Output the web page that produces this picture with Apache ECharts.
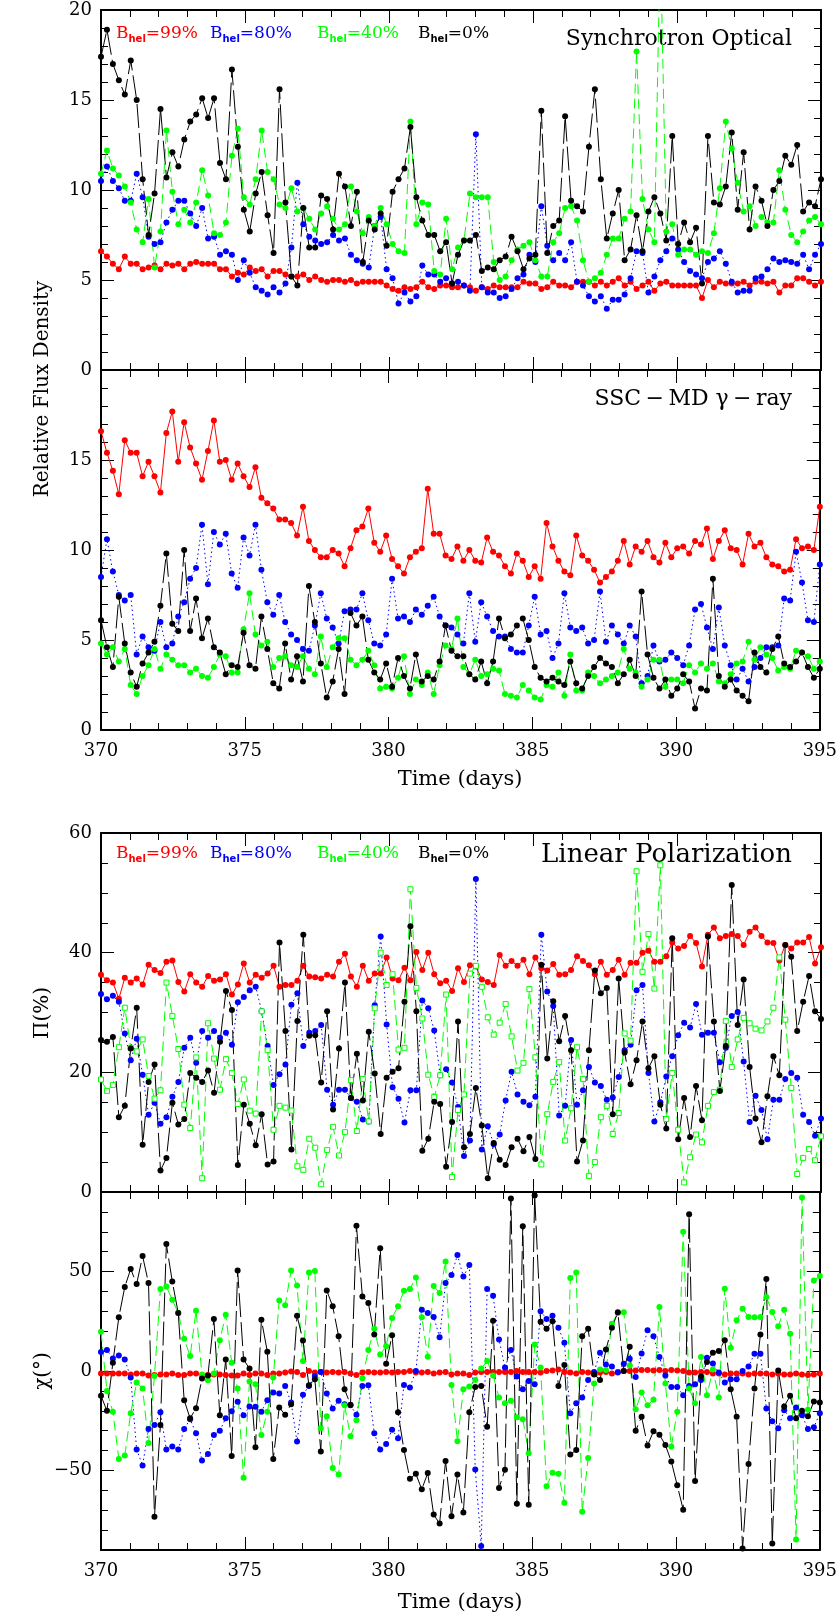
<!DOCTYPE html>
<html>
<head>
<meta charset="utf-8">
<script src="https://cdn.jsdelivr.net/npm/echarts@6/dist/echarts.min.js"></script>
<style>
  html, body { margin: 0; padding: 0; background: #fff; }
  #chart { width: 840px; height: 1616px; }
</style>
</head>
<body>
<div id="chart"></div>
<script>
// time range of every panel (days); samples are evenly spaced over it
const T_START = 370, T_END = 395;

// Synchrotron optical flux (relative)
const optRed = [6.6,6.3,5.9,5.6,6.3,5.9,5.9,5.6,5.7,5.8,5.6,5.9,5.8,5.9,5.6,5.9,6.0,5.9,5.9,5.9,5.6,5.6,5.2,5.4,5.3,5.7,5.5,5.6,5.2,5.5,5.5,5.3,5.2,5.2,5.3,5.0,5.2,5.0,4.9,5.0,5.0,4.9,
  5.0,4.8,4.9,4.9,4.9,4.9,4.7,4.5,4.4,4.6,4.5,4.6,4.9,4.6,4.5,4.7,4.7,4.6,4.6,4.7,4.6,4.4,4.6,4.5,4.7,4.6,4.6,4.6,4.6,4.9,4.8,4.8,4.5,4.6,4.9,4.7,4.7,4.6,4.9,4.9,
  4.9,4.7,4.9,4.7,4.9,5.1,4.7,4.9,4.5,4.7,4.9,4.4,4.8,4.9,4.7,4.7,4.7,4.7,4.7,4.0,5.0,4.6,4.9,4.8,4.8,4.8,4.9,4.7,4.9,4.9,4.8,4.9,4.3,4.7,4.7,5.1,5.1,4.9,4.7,4.9];
const optBlue = [10.5,11.3,10.5,10.1,9.4,9.4,10.9,9.6,7.4,7.0,7.1,8.2,8.9,9.4,9.4,8.7,8.0,9.0,7.3,7.4,6.4,6.6,6.4,5.0,6.1,5.4,4.6,4.4,4.2,4.6,4.3,4.8,6.8,10.4,8.1,7.4,7.2,7.0,7.1,7.5,7.2,7.3,
  6.4,6.1,5.9,5.7,8.0,8.5,5.6,5.1,3.7,4.3,3.8,4.1,5.8,5.3,5.3,4.9,5.1,4.8,4.9,4.7,4.4,13.1,4.6,4.3,4.3,4.0,4.1,4.5,5.1,5.3,6.4,6.0,9.1,6.9,6.1,6.5,6.1,7.1,4.9,4.7,
  4.1,3.8,4.1,3.4,3.9,3.9,4.2,5.1,6.6,6.5,4.3,5.2,6.1,6.6,7.3,6.7,6.0,5.5,5.3,5.1,6.0,6.2,6.6,5.9,4.9,4.3,4.4,4.4,5.1,5.2,5.6,6.2,6.0,6.1,6.0,5.9,6.4,5.6,6.4,7.0];
const optGreen = [10.9,12.2,11.2,10.8,10.2,9.3,7.8,7.1,9.5,5.7,7.7,13.3,9.9,8.1,8.9,8.2,9.3,11.1,9.7,7.6,7.5,8.2,11.9,13.4,9.6,9.2,10.6,13.3,11.0,10.6,9.2,9.0,10.1,8.8,9.0,8.4,7.8,8.7,9.1,8.4,7.8,8.1,
  10.2,8.8,7.6,8.5,8.0,9.0,8.1,7.0,6.6,6.5,13.8,8.1,9.3,9.2,5.5,5.3,8.4,5.6,6.8,7.2,9.8,9.6,9.6,9.6,6.0,5.0,5.2,6.1,6.7,6.9,7.1,6.1,5.2,5.2,7.1,7.6,9.0,9.1,8.3,6.1,
  4.9,5.1,5.4,6.4,7.3,7.3,8.4,8.8,17.7,9.5,7.8,7.1,24,7.7,8.1,6.4,6.7,6.7,6.4,6.6,6.5,7.6,10.1,13.8,12.3,10.4,8.8,9.1,8.0,8.5,8.2,8.2,11.1,8.9,7.5,7.1,7.7,8.3,8.5,8.1];
const optBlack = [17.4,18.9,17.0,16.1,15.3,17.2,15.0,10.6,7.5,9.8,14.5,10.7,12.1,11.3,12.8,13.8,14.2,15.1,14.0,15.1,11.5,10.6,16.7,12.4,8.9,7.7,9.8,11.0,8.6,6.5,15.6,9.3,5.2,4.7,9.0,6.8,6.8,9.7,9.5,7.8,10.9,10.2,
  8.0,9.9,6.0,8.3,7.8,8.7,6.9,9.9,10.6,11.2,13.5,9.6,8.3,7.5,7.5,6.6,7.1,4.8,6.4,7.2,7.2,7.5,5.5,5.7,5.6,6.1,6.3,7.4,6.6,5.6,6.2,6.4,14.4,6.5,8.0,8.3,14.1,9.4,9.1,8.8,
  12.4,15.6,10.6,7.3,8.7,10.0,6.1,6.7,8.6,6.6,8.8,9.6,8.7,7.2,13.0,7.0,8.2,7.1,7.9,4.8,13.0,9.3,9.2,10.2,13.2,8.9,12.1,7.8,10.2,9.4,8.0,10.0,10.5,11.9,11.4,12.5,8.8,9.3,9.1,10.6];

// SSC-MD gamma-ray flux (relative)
const gamRed = [16.6,15.4,14.4,13.1,16.1,15.4,15.4,14.1,14.9,14.1,13.2,16.5,17.7,14.9,17.1,15.7,14.8,13.9,15.5,17.2,14.9,15.0,13.9,14.8,14.1,13.5,14.6,12.9,12.6,12.3,11.7,11.7,11.5,10.8,12.4,10.5,10.0,9.6,9.6,10.0,9.8,9.1,
  10.1,11.1,11.3,12.3,10.4,9.9,10.8,9.5,9.1,8.7,9.6,9.9,10.1,13.4,10.9,10.9,9.7,9.5,10.2,9.4,10.0,9.4,9.3,10.7,9.9,9.7,9.1,8.7,9.8,9.4,8.5,9.1,8.4,11.5,10.2,9.4,8.8,8.6,10.8,9.7,
  9.4,8.9,8.2,8.5,8.8,9.4,10.5,9.2,10.2,9.9,10.5,9.6,9.3,10.4,9.6,10.1,10.2,9.8,10.5,10.3,11.2,9.5,10.5,11.1,10.1,10.0,9.2,10.9,10.2,10.4,9.6,9.2,9.1,8.8,8.9,10.6,10.1,10.2,10.0,12.4];
const gamBlue = [8.5,10.6,8.8,7.5,7.2,7.5,4.2,5.2,4.6,4.4,6.0,4.6,4.8,6.3,7.1,8.4,9.0,11.4,8.1,11.0,10.3,10.9,8.7,7.9,10.7,9.7,11.4,8.9,7.1,6.4,7.5,6.0,5.3,5.0,4.5,4.4,5.8,7.6,6.2,5.7,4.8,6.6,
  6.7,6.7,7.6,6.1,4.8,4.7,5.3,8.4,6.2,6.3,6.0,6.7,6.4,6.9,7.4,6.3,5.8,5.7,5.3,4.8,7.6,4.9,7.1,6.3,5.5,5.2,5.2,4.5,4.3,4.3,5.8,7.4,5.3,5.5,4.0,4.8,7.6,5.7,5.5,5.7,
  4.8,5.0,7.7,4.9,5.8,5.3,4.8,5.8,5.2,2.6,3.0,4.7,3.8,3.9,4.3,4.0,3.6,4.7,6.7,7.0,5.7,4.5,6.8,4.7,3.6,2.8,3.4,2.7,3.5,4.0,4.6,4.6,4.7,7.3,7.2,9.9,8.2,6.1,6.0,9.2];
const gamGreen = [4.8,4.2,4.6,3.8,4.5,2.5,2.0,3.0,3.6,4.5,3.4,4.2,3.9,3.6,3.6,3.2,3.4,3.0,2.9,3.5,4.2,4.1,3.2,3.2,5.6,7.6,5.3,4.7,4.9,3.5,4.0,4.1,3.6,3.5,4.1,3.4,3.1,5.2,3.5,4.6,5.1,5.1,
  3.9,3.6,3.9,4.4,3.6,2.3,2.4,2.3,2.9,4.1,2.0,2.8,2.5,3.2,2.0,3.6,4.7,4.5,6.2,3.5,3.1,3.9,3.0,3.1,3.4,3.3,2.0,1.9,1.8,2.5,2.2,1.8,1.7,2.5,2.4,3.2,1.9,4.2,2.2,2.2,
  3.2,3.0,2.6,2.8,3.0,3.2,4.5,3.4,3.2,2.4,2.8,3.9,3.9,2.4,2.8,2.8,2.6,3.6,3.2,3.7,3.4,3.7,2.7,2.6,3.1,3.7,3.8,4.9,3.9,4.6,4.2,4.0,3.3,3.5,3.4,4.4,4.3,4.1,3.4,3.8];
const gamBlack = [6.1,4.6,3.5,7.4,4.8,3.2,2.4,3.7,4.3,4.9,6.9,9.8,5.9,5.5,10.0,5.5,7.3,5.1,6.2,4.6,4.3,3.1,3.6,3.5,5.4,3.6,3.4,6.3,4.5,2.6,2.3,4.8,2.8,4.1,2.7,8.0,6.0,3.7,1.8,2.7,4.5,2.0,
  6.5,5.8,6.3,3.9,3.2,2.8,3.7,2.4,4.0,3.0,2.3,4.2,2.7,3.0,2.8,3.8,5.8,4.4,4.1,4.1,3.1,2.8,3.8,2.6,3.8,6.2,5.1,5.3,5.8,6.2,5.0,3.5,2.9,2.7,2.9,2.7,2.5,3.8,2.6,2.3,
  3.0,3.5,4.0,3.7,3.5,2.6,3.1,3.9,3.0,7.7,4.2,2.9,2.3,2.8,1.9,2.3,3.1,2.7,1.2,2.3,2.2,8.4,3.0,2.4,2.8,2.2,1.9,1.6,4.3,3.5,3.2,4.5,5.2,3.7,3.5,3.8,4.3,3.5,2.9,3.4];

// linear polarization degree (%)
const polRed = [36.3,35.4,35.0,32.3,35.8,35.0,35.7,34.7,38.0,37.1,36.6,38.5,38.7,35.1,33.5,36.4,35.0,34.3,36.1,35.3,35.5,36.4,33.0,34.7,38.2,35.0,36.3,35.8,36.5,37.8,34.3,34.6,34.6,35.3,37.8,36.0,35.9,35.7,36.3,36.0,38.5,39.8,
  36.0,34.3,37.8,35.3,36.5,36.5,39.2,35.7,35.4,37.5,35.4,40.1,37.1,40.0,36.4,34.9,35.3,33.6,37.4,35.1,37.9,37.7,35.5,35.1,34.6,39.6,37.8,38.6,37.8,38.8,36.4,39.2,37.4,37.0,38.1,36.3,36.4,37.1,39.4,38.6,
  37.9,36.4,38.5,36.3,37.1,38.8,36.3,38.3,38.3,40.0,40.3,38.5,38.5,39.4,41.7,40.7,41.1,42.8,41.6,37.7,43.0,44.2,42.4,42.8,43.1,42.8,41.3,43.5,44.2,42.8,41.7,41.6,38.7,41.3,40.7,41.7,41.7,42.6,38.2,40.9];
const polBlue = [33.1,32.2,32.8,31.8,26.5,22.0,25.6,19.6,12.9,14.9,11.4,12.5,15.9,18.4,24.1,25.8,21.6,26.9,25.8,26.9,25.8,26.6,24.6,31.7,32.6,33.7,34.3,30.2,24.4,17.9,19.7,21.3,31.3,33.2,24.4,26.6,26.9,27.9,17.1,14.6,17.1,17.1,
  15.7,15.1,12.1,11.8,31.2,42.7,28.0,17.5,15.6,11.6,17.0,17.0,32.0,30.7,27.0,19.5,20.5,18.3,14.2,6.0,8.6,52.3,7.1,11.0,8.0,9.6,15.3,20.1,16.3,15.1,14.5,15.9,43.0,33.5,31.1,12.8,14.4,25.4,14.6,17.0,
  20.9,18.3,17.7,15.4,15.8,19.2,23.7,24.6,33.7,34.6,19.9,11.8,15.0,19.3,22.7,26.2,28.3,27.5,31.4,26.3,26.6,26.6,21.7,24.1,29.4,30.1,21.8,11.7,16.1,13.7,8.8,15.4,15.4,18.9,19.9,19.1,12.9,11.7,9.4,12.3];
const polGreen = [18.8,16.9,17.9,24.2,30.8,24.1,23.5,25.5,19.4,15.6,17.0,35.0,29.4,23.9,14.6,10.7,22.5,2.3,28.2,22.3,17.1,22.2,19.9,14.7,18.8,13.6,13.1,30.2,23.7,10.4,14.4,14.1,13.6,4.3,3.7,8.9,7.4,1.3,7.0,10.9,6.1,10.0,
  18.7,10.2,18.9,11.8,30.7,40.0,34.6,36.4,23.8,24.1,50.6,34.1,29.0,19.6,15.9,19.5,33.0,2.5,13.7,16.3,36.5,37.8,34.3,29.2,26.3,28.3,31.4,26.0,20.3,21.6,33.9,22.5,4.6,13.0,18.4,21.7,8.6,14.0,24.2,18.9,
  2.7,5.0,12.5,14.4,9.7,13.2,26.5,25.3,53.6,36.8,43.1,34.0,54.6,12.2,19.9,10.4,1.6,5.8,9.6,8.3,14.4,16.7,17.1,28.6,20.9,25.5,29.1,28.2,27.3,27.0,28.5,30.8,39.2,28.8,17.4,3.0,5.7,7.2,5.3,9.3];
const polBlack = [25.4,25.1,25.9,12.5,14.4,24.0,30.8,7.9,18.4,21.3,3.6,5.7,14.9,11.3,12.2,19.9,19.1,18.4,20.3,16.6,25.1,33.6,30.4,4.5,14.6,11.4,7.8,13.0,4.6,5.1,41.7,26.9,7.1,28.6,43.0,26.1,26.2,18.3,30.2,13.8,24.0,35.0,
  15.7,23.1,15.3,26.8,19.8,9.7,19.1,20.1,20.7,31.8,44.4,30.2,6.9,8.9,15.1,14.7,4.2,11.7,28.5,7.5,9.7,17.4,11.1,2.3,8.2,5.4,4.5,7.5,8.9,6.8,9.2,5.5,38.0,22.3,31.9,25.2,29.4,23.7,5.1,8.6,
  23.7,37.0,33.2,34.1,13.0,35.7,23.3,18.0,22.0,28.5,20.7,22.7,14.6,10.6,42.4,8.8,15.7,9.2,17.7,12.0,42.7,28.5,16.9,24.4,51.3,27.9,35.5,20.9,12.3,8.3,16.0,22.7,19.5,41.3,39.3,26.9,31.8,36.1,30.2,28.9];

// polarization angle (degrees)
const chiRed = [-1.3,-1.3,-1.2,-1.2,-1.2,-1.7,-1.2,-1.2,-2.2,-2.0,-1.7,-1.7,-1.3,-2.0,-2.0,-1.3,-1.3,-2.0,-2.0,-1.7,-1.7,-2.0,-2.2,-2.2,-1.2,-2.0,-1.2,-1.3,-2.0,-1.3,-1.2,-0.8,-0.3,-0.5,-2.0,0.0,-0.8,-0.5,-0.8,-0.5,-0.8,-0.5,
  -1.3,-2.0,-0.8,-0.5,-0.8,-0.8,-0.5,-0.8,-0.5,-0.5,0.0,-0.8,-0.8,-0.5,-1.3,-0.8,-0.5,-1.7,-1.3,-1.3,-2.0,-0.8,-0.5,-0.5,-0.5,-0.5,-0.5,-0.5,0.0,-0.5,-0.5,-0.5,-0.8,0.0,0.3,0.8,-0.5,-0.8,-1.3,-0.5,
  -0.8,-1.3,-0.8,-0.5,-1.3,-0.5,0.0,0.0,0.3,0.5,0.5,0.3,0.5,0.0,0.5,0.3,0.0,-0.8,-0.8,-0.5,-0.5,-1.2,-1.3,-1.7,-1.3,-1.2,-1.2,-1.7,-1.3,-1.2,-1.3,-1.7,-1.3,-1.7,-1.7,-1.2,-1.7,-2.0,-1.7,-1.3];
const chiBlue = [9.5,10.5,6.3,7.8,5.8,-3.3,-39.5,-47.5,-29.2,-27.2,-20.8,-39.5,-38.0,-39.5,-29.2,-24.2,-31.3,-45.0,-41.7,-32.2,-30.0,-23.8,-20.3,-15.5,-22.2,-17.8,-18.0,-20.5,-14.7,-10.8,-11.3,-7.5,-15.8,-35.5,-12.0,-7.5,-2.5,-0.5,-11.3,-18.8,-15.0,-16.7,
  -17.2,-22.0,-7.5,-7.2,-31.3,-39.5,-36.7,-29.5,-33.8,-7.0,-8.3,0,30.8,29.2,27.2,17.0,44.2,48.3,58.3,47.5,53.3,-49.5,-88,41.2,37.8,15.8,1.7,10.5,-2.8,-9.2,-5.0,-6.7,30.0,26.2,27.8,21.7,14.2,-21.3,-16.2,-13.3,
  -4.5,-0.5,9.2,3.3,2.2,-0.8,3.7,6.2,-3.0,8.8,20.5,17.5,7.0,-2.2,-8.0,-8.0,-12.2,-7.5,-6.7,-4.5,6.7,3.8,-0.8,-5.8,-4.2,-4.2,0,2.2,8.7,8.7,-18.8,-25.3,-28.8,-19.7,-23.8,-18.3,-22.2,-29.2,-28.3,-21.3];
const chiGreen = [19.7,-10.0,-20.5,-44.2,-42.5,-21.2,-5.8,-8.8,-36.2,-2.5,41.2,42.5,35.8,29.2,16.2,7.5,30.3,-1.7,-4.7,-1.2,15.5,28.3,4.2,-8.8,-53.7,-5.3,-6.7,-32.2,-20.5,-3.3,35.5,33.0,50.5,43.0,5.0,49.5,50.3,-28.8,-22.8,-48.8,-52.0,-17.2,
  -32.8,-24.7,-3.7,10.5,21.2,8.3,12.5,26.7,32.5,40.3,41.2,47.0,27.0,7.2,42.8,39.2,55.0,-7.0,-35.3,-9.2,-7.8,-4.5,1.2,5.0,-2.2,-13.3,-16.2,-15.0,-23.3,-24.2,-41.3,13.3,1.7,-58.0,-51.2,-51.7,-66.3,46.7,49.5,-70.8,
  -43.8,-6.3,0.8,0.5,23.8,29.2,29.5,2.8,-19.2,-10.8,-17.2,-14.5,32.2,-6.3,-38.0,-20.5,70.0,-8.8,-16.2,7.0,-12.2,0.8,-13.3,41.3,11.7,25.5,31.3,27.2,27.0,27.2,37.2,29.7,22.5,30.8,18.7,-84.7,87.2,-19.5,45.5,47.8];
const chiBlack = [-12.5,-20.0,4.2,27.0,42.2,51.3,43.7,57.8,44.2,-73.3,-27.2,63.8,45.0,29.2,-14.7,-23.8,-18.7,-3.8,-2.2,26.2,-22.2,5.8,-42.8,50.5,5.8,1.2,-38.3,25.8,9.7,-44.2,-18.3,-22.0,-16.7,27.8,15.3,-7.2,-4.2,-40.5,40.5,32.5,17.5,-9.2,
  -17.0,73.0,37.5,34.2,18.3,61.7,3.7,18.0,-20.8,-39.7,-54.2,-51.7,-59.5,-51.3,-72.2,-76.7,-45.3,-73.0,-52.0,-71.2,-20.8,-8.0,-7.5,-28.0,25.3,-58.8,-49.7,86.7,-66.7,72.8,-67.2,88.3,24.7,21.3,25.0,-7.5,3.0,-42.0,-39.7,17.5,
  21.2,-1.7,-4.5,10.8,21.7,29.5,0,12.2,-30.0,-23.0,-37.5,-30.3,-32.0,-37.2,-45.5,-57.5,-69.7,78.8,-55.3,-2.8,4.5,9.2,10.0,15.5,-9.2,-23.0,-89.2,-46.7,-8.8,18.3,46.2,-86.7,0.3,-17.8,-12.5,-23.7,-20.0,-22.8,-15.3,-15.8];

const legendLabels = ['99%', '80%', '40%', '0%'];
const chiMajorTicks = [-50, 0, 50];

const FONT = 'DejaVu Serif';
const RED = '#ff0000', BLUE = '#0000ff', GREEN = '#00ff00', BLACK = '#000000';

function pairs(vals) {
    const n = vals.length;
    return vals.map((v, i) => [T_START + i * (T_END - T_START) / (n - 1), v]);
}

function minusSign(v) {
    return v < 0 ? '\u2212' + (-v) : String(v);
}

const grids = [
    {left: 101, top: 10, width: 720, height: 360},
    {left: 101, top: 370, width: 720, height: 360},
    {left: 101, top: 833, width: 720, height: 359},
    {left: 101, top: 1192, width: 720, height: 358}
];

const axisLine = {show: true, onZero: false, lineStyle: {color: '#000', width: 2}};
const labelStyle = {color: '#000', fontFamily: FONT, fontSize: 18};

// x axes: bottom + top of each panel
const xAxes = [];
grids.forEach((g, gi) => {
    ['bottom', 'top'].forEach(pos => {
        xAxes.push({
            type: 'value', gridIndex: gi, position: pos,
            min: T_START, max: T_END, interval: 5,
            axisLine: axisLine,
            axisTick: {show: true, inside: true, length: 13, lineStyle: {color: '#000', width: 1}},
            minorTick: {show: true, splitNumber: 5, length: 7, lineStyle: {color: '#000', width: 1}},
            splitLine: {show: false},
            axisLabel: Object.assign({show: pos === 'bottom' && (gi === 1 || gi === 3), margin: 12}, labelStyle)
        });
    });
});

// y axes
const yAxes = [];
const yIndex = [];
function addY(gi, cfg) {
    ['left', 'right'].forEach(pos => {
        if (pos === 'left') yIndex[gi] = yAxes.length;
        yAxes.push({
            type: 'value', gridIndex: gi, position: pos,
            min: cfg.min, max: cfg.max, interval: cfg.interval,
            axisLine: axisLine,
            axisTick: {show: true, inside: true, length: cfg.minorOnly ? 7 : 13, lineStyle: {color: '#000', width: 1}},
            minorTick: {show: !cfg.minorOnly, splitNumber: cfg.minor, length: 7, lineStyle: {color: '#000', width: 1}},
            splitLine: {show: false},
            axisLabel: Object.assign({
                show: pos === 'left', margin: 9,
                customValues: cfg.labels,
                formatter: v => (cfg.hideMax && v === cfg.max) ? '' : minusSign(v)
            }, labelStyle)
        });
        if (cfg.majors) {
            // long ticks at the labelled values
            yAxes.push({
                type: 'value', gridIndex: gi, position: pos,
                min: cfg.min, max: cfg.max,
                axisLine: {show: false},
                axisTick: {show: true, inside: true, length: 13, customValues: cfg.majors, lineStyle: {color: '#000', width: 1}},
                splitLine: {show: false},
                axisLabel: {show: false}
            });
        }
    });
}
addY(0, {min: 0, max: 20, interval: 5, minor: 5});
addY(1, {min: 0, max: 20, interval: 5, minor: 5, hideMax: true});
addY(2, {min: 0, max: 60, interval: 20, minor: 4});
addY(3, {min: -90, max: 90, interval: 10, minorOnly: true, labels: chiMajorTicks, majors: chiMajorTicks});

function line(vals, gi, color, dash, extra) {
    return Object.assign({
        type: 'line',
        xAxisIndex: 2 * gi,
        yAxisIndex: yIndex[gi],
        data: pairs(vals),
        symbol: 'circle',
        symbolSize: 6,
        showAllSymbol: true,
        clip: true,
        itemStyle: {color: color},
        lineStyle: {color: color, width: 1, type: dash},
        emphasis: {disabled: true},
        silent: true
    }, extra || {});
}

const DASH_BLUE = [1.5, 3], DASH_GREEN = [10, 5], DASH_BLACK = [24, 5];
const hollowSquare = {symbol: 'rect', symbolSize: 5, itemStyle: {color: '#fff', borderColor: GREEN, borderWidth: 1}};

const series = [
    line(optRed, 0, RED, 'solid'), line(optBlue, 0, BLUE, DASH_BLUE),
    line(optGreen, 0, GREEN, DASH_GREEN), line(optBlack, 0, BLACK, DASH_BLACK),
    line(gamRed, 1, RED, 'solid'), line(gamBlue, 1, BLUE, DASH_BLUE),
    line(gamGreen, 1, GREEN, DASH_GREEN), line(gamBlack, 1, BLACK, DASH_BLACK),
    line(polRed, 2, RED, 'solid'), line(polBlue, 2, BLUE, DASH_BLUE),
    line(polGreen, 2, GREEN, DASH_GREEN, hollowSquare), line(polBlack, 2, BLACK, DASH_BLACK),
    line(chiRed, 3, RED, 'solid'), line(chiBlue, 3, BLUE, DASH_BLUE),
    line(chiGreen, 3, GREEN, DASH_GREEN), line(chiBlack, 3, BLACK, DASH_BLACK)
];

// "B_hel=xx%" labels
function legendText(x, y, color, pct) {
    return {
        type: 'text', x: x, y: y,
        style: {
            text: '{b|B}{s|hel}{b|=' + pct + '}',
            fill: color, align: 'left', textAlign: 'left', verticalAlign: 'middle', textVerticalAlign: 'middle',
            rich: {
                b: {fontFamily: FONT, fontSize: 17, lineHeight: 21, fill: color},
                s: {fontFamily: 'DejaVu Sans', fontWeight: 'bold', fontSize: 10, lineHeight: 11, verticalAlign: 'bottom', fill: color}
            }
        }
    };
}

function plainText(x, y, text, size, opts) {
    return Object.assign({
        type: 'text', x: x, y: y,
        style: {
            text: text, fill: '#000', font: size + 'px "' + FONT + '"',
            align: (opts && opts.align) || 'center', textAlign: (opts && opts.align) || 'center',
            verticalAlign: 'middle', textVerticalAlign: 'middle'
        }
    }, opts && opts.rotation ? {rotation: opts.rotation} : {});
}

const legendX = [116, 210, 317, 418];
const legendColors = [RED, BLUE, GREEN, BLACK];
const graphics = [];
[34, 854].forEach(y => {
    legendLabels.forEach((p, i) => graphics.push(legendText(legendX[i], y, legendColors[i], p)));
});
graphics.push(plainText(792, 39, 'Synchrotron Optical', 22, {align: 'right'}));
graphics.push(plainText(792, 399, 'SSC\u2009\u2212\u2009MD \u03b3\u2009\u2212\u2009ray', 22, {align: 'right'}));
graphics.push(plainText(792, 855, 'Linear Polarization', 26, {align: 'right'}));
graphics.push(plainText(43, 389, 'Relative Flux Density', 20, {rotation: Math.PI / 2}));
graphics.push(plainText(43, 1013, '\u03a0(%)', 20, {rotation: Math.PI / 2}));
graphics.push(plainText(43, 1371, '\u03c7(\u00b0)', 20, {rotation: Math.PI / 2}));
graphics.push(plainText(460, 780, 'Time (days)', 21));
graphics.push(plainText(460, 1603, 'Time (days)', 21));

const chart = echarts.init(document.getElementById('chart'), null, {renderer: 'canvas'});
chart.setOption({
    backgroundColor: '#fff',
    animation: false,
    grid: grids,
    xAxis: xAxes,
    yAxis: yAxes,
    series: series,
    graphic: graphics
});
</script>
</body>
</html>
